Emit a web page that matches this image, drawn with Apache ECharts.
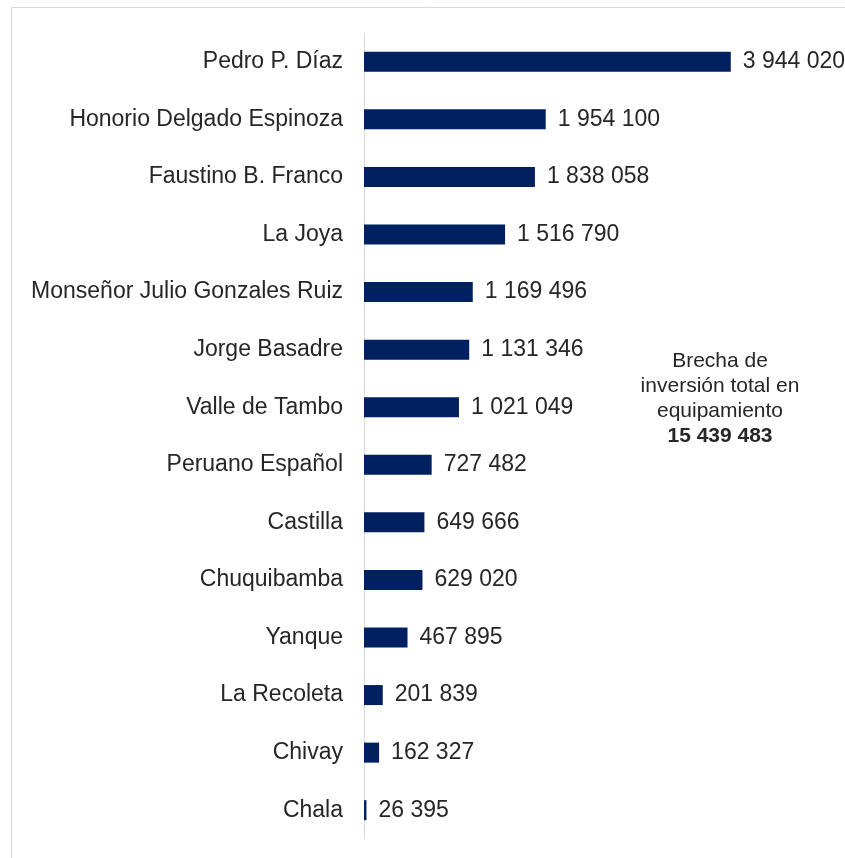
<!DOCTYPE html>
<html>
<head>
<meta charset="utf-8">
<script src="https://cdn.jsdelivr.net/npm/echarts@6/dist/echarts.min.js"></script>
<style>
  html, body { margin: 0; padding: 0; background: #fff; }
  #chart { width: 845px; height: 858px; }
</style>
</head>
<body>
<div id="chart"></div>
<script>
var categories = ['Pedro P. Díaz', 'Honorio Delgado Espinoza', 'Faustino B. Franco', 'La Joya',
  'Monseñor Julio Gonzales Ruiz', 'Jorge Basadre', 'Valle de Tambo', 'Peruano Español',
  'Castilla', 'Chuquibamba', 'Yanque', 'La Recoleta', 'Chivay', 'Chala']
var values = [3944020, 1954100, 1838058, 1516790, 1169496, 1131346, 1021049, 727482,
  649666, 629020, 467895, 201839, 162327, 26395]
var noteLines = ['Brecha de', 'inversión total en', 'equipamiento']
var noteTotal = '15 439 483'

// separador de miles con espacio
function fmt(n) {
  return String(n).replace(/\B(?=(\d{3})+(?!\d))/g, ' ')
}

var myChart = echarts.init(document.getElementById('chart'))
var font = 'Liberation Sans, Arial, sans-serif'

myChart.setOption({
  backgroundColor: '#fff',
  animation: false,
  grid: { left: 364, right: 16, top: 33, bottom: 19, containLabel: false },
  xAxis: {
    type: 'value',
    min: 0,
    max: 5000000,
    show: false
  },
  yAxis: {
    type: 'category',
    data: categories,
    inverse: true,
    axisLine: { show: true, lineStyle: { color: '#d9d9d9', width: 1 } },
    axisTick: { show: false },
    axisLabel: { color: '#262626', fontSize: 23, fontFamily: font, margin: 21 }
  },
  series: [{
    type: 'bar',
    data: values,
    barWidth: 20,
    itemStyle: { color: '#002060' },
    label: {
      show: true,
      position: 'right',
      distance: 12,
      color: '#262626',
      fontSize: 23,
      fontFamily: font,
      formatter: function (p) { return fmt(p.value) }
    }
  }],
  graphic: [
    {
      type: 'rect',
      shape: { x: 11.5, y: 7.5, width: 900, height: 900 },
      style: { fill: 'none', stroke: '#d9d9d9', lineWidth: 1 },
      silent: true
    },
    {
      type: 'text',
      x: 720,
      y: 349,
      style: {
        text: noteLines.join('\n'),
        align: 'center',
        verticalAlign: 'top',
        fill: '#262626',
        font: '21px ' + font,
        lineHeight: 25
      }
    },
    {
      type: 'text',
      x: 720,
      y: 424,
      style: {
        text: noteTotal,
        align: 'center',
        verticalAlign: 'top',
        fill: '#262626',
        font: 'bold 21px ' + font,
        lineHeight: 25
      }
    }
  ]
})
</script>
</body>
</html>
